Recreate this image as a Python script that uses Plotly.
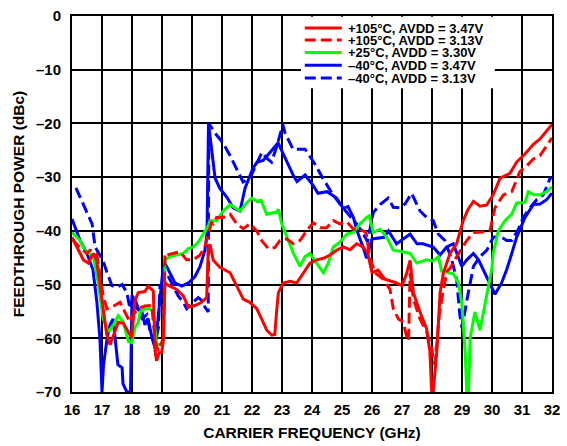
import plotly.graph_objects as go

# Carrier feedthrough vs. carrier frequency, five temperature / supply corners
f_r347 = [16.0, 16.21, 16.38, 16.54, 16.71, 16.82, 16.93, 17.04, 17.16, 17.27, 17.38, 17.54, 17.71, 17.88, 17.99,
          18.1, 18.21, 18.43, 18.54, 18.71, 18.77, 18.82, 18.9, 18.99, 19.04, 19.1, 19.27, 19.49, 19.71, 19.88,
          20.1, 20.32, 20.49, 20.54, 20.6, 20.71, 20.93, 21.27, 21.49, 21.71, 21.93, 22.16, 22.32, 22.49, 22.66,
          22.76, 22.82, 22.88, 23.04, 23.27, 23.49, 23.71, 23.93, 24.16, 24.38, 24.6, 24.82, 25.04, 25.27, 25.49,
          25.7, 25.85, 25.93, 26.0, 26.2, 26.43, 26.82, 27.0, 27.15, 27.27, 27.38, 27.6, 27.82, 27.93, 27.99,
          28.04, 28.16, 28.27, 28.38, 28.6, 28.82, 29.04, 29.2, 29.38, 29.6, 29.82, 30.04, 30.27, 30.6, 30.82,
          31.1, 31.38, 31.6, 31.82, 32.0]
p_r347 = [-41.2, -43.6, -45.4, -46.0, -44.2, -45.5, -50.3, -55.1, -59.4, -61.2, -59.4, -57.0, -57.2, -58.8, -59.9,
          -53.0, -51.5, -51.3, -50.3, -51.2, -62.4, -64.2, -62.8, -62.6, -60.6, -49.7, -50.3, -50.9, -52.1, -54.2,
          -53.9, -53.3, -52.4, -43.6, -42.5, -45.5, -46.8, -47.8, -50.3, -52.7, -53.3, -54.5, -56.4, -58.5, -59.4,
          -59.3, -55.0, -51.5, -49.7, -49.4, -49.7, -47.8, -46.0, -45.4, -45.1, -44.5, -43.6, -43.0, -43.5, -42.4,
          -43.0, -44.0, -46.0, -47.8, -47.3, -49.0, -49.7, -50.2, -48.0, -45.5, -51.5, -55.1, -58.2, -62.5, -70.0,
          -70.0, -62.5, -51.5, -47.8, -44.2, -42.4, -38.1, -36.0, -34.5, -35.4, -35.2, -33.3, -30.2, -29.3, -27.2,
          -25.7, -23.9, -22.9, -21.4, -20.2]

f_r313 = [16.0, 16.25, 16.49, 16.6, 16.82, 16.93, 17.04, 17.16, 17.33, 17.6, 17.77, 17.93, 18.05, 18.21, 18.43,
          18.66, 18.77, 18.88, 19.04, 19.1, 19.16, 19.38, 19.6, 19.82, 20.04, 20.27, 20.43, 20.54, 20.65, 20.71,
          20.82, 21.04, 21.27, 21.49, 21.71, 21.93, 22.16, 22.32, 22.54, 22.76, 22.93, 23.16, 23.38, 23.6, 23.82,
          24.04, 24.27, 24.49, 24.71, 24.93, 25.16, 25.38, 25.6, 25.8, 25.93, 26.1, 26.38, 26.6, 26.71, 26.88,
          27.04, 27.16, 27.22, 27.27, 27.38, 27.6, 27.82, 27.99, 28.08, 28.16, 28.24, 28.38, 28.5, 28.6, 28.8,
          29.16, 29.38, 29.71, 29.93, 30.1, 30.38, 30.66, 30.93, 31.16, 31.38, 31.6, 31.82, 32.0]
p_r313 = [-41.5, -43.0, -44.2, -43.6, -44.2, -47.8, -52.1, -54.5, -54.2, -53.3, -55.1, -57.0, -55.5, -54.5, -54.0,
          -53.9, -60.6, -62.4, -60.0, -44.2, -44.5, -44.2, -43.9, -45.4, -45.4, -44.5, -43.0, -40.6, -38.5, -38.7,
          -37.5, -37.5, -36.9, -38.7, -39.6, -38.7, -40.0, -41.8, -43.3, -43.1, -41.8, -41.5, -42.4, -41.8, -40.0,
          -38.5, -39.4, -39.4, -38.1, -38.7, -38.3, -39.7, -39.7, -40.3, -44.9, -47.8, -49.0, -50.9, -54.5, -56.4,
          -57.0, -59.7, -60.5, -47.8, -52.7, -56.4, -58.8, -61.8, -64.9, -61.2, -55.7, -50.9, -47.5, -47.0, -45.0,
          -41.8, -40.3, -40.2, -40.0, -35.7, -33.3, -32.7, -29.0, -27.9, -26.6, -26.0, -24.2, -22.7]

f_g330 = [16.0, 16.27, 16.43, 16.71, 16.82, 16.93, 17.04, 17.21, 17.38, 17.54, 17.71, 17.88, 17.99, 18.1, 18.21,
          18.27, 18.43, 18.6, 18.71, 18.82, 18.99, 19.06, 19.1, 19.27, 19.49, 19.71, 19.88, 20.04, 20.21, 20.38,
          20.54, 20.6, 20.82, 21.04, 21.27, 21.6, 21.82, 21.99, 22.16, 22.3, 22.49, 22.82, 22.88, 22.99, 23.16,
          23.38, 23.6, 23.77, 23.93, 24.16, 24.38, 24.54, 24.71, 24.93, 25.16, 25.38, 25.6, 25.82, 25.91, 26.04,
          26.27, 26.49, 26.71, 26.93, 27.27, 27.49, 27.82, 28.04, 28.21, 28.32, 28.6, 28.71, 28.88, 28.99, 29.1,
          29.16, 29.22, 29.27, 29.43, 29.6, 29.82, 29.99, 30.04, 30.21, 30.43, 30.66, 30.82, 31.1, 31.21, 31.4,
          31.6, 31.82, 32.0]
p_g330 = [-40.3, -41.8, -43.6, -44.8, -47.8, -52.1, -56.4, -58.8, -57.5, -55.8, -57.0, -60.6, -60.8, -58.0, -57.0,
          -55.1, -54.5, -54.5, -55.1, -61.2, -61.1, -60.3, -45.4, -44.8, -44.5, -44.2, -43.3, -43.0, -42.1, -40.6,
          -39.1, -38.1, -38.1, -36.3, -35.1, -36.3, -34.8, -33.9, -34.5, -34.3, -36.9, -36.5, -36.0, -38.7, -41.2,
          -44.2, -46.6, -44.8, -44.2, -46.0, -47.8, -46.0, -43.0, -42.1, -40.6, -40.3, -38.7, -37.5, -37.2, -40.3,
          -39.7, -41.2, -43.6, -43.8, -44.2, -46.0, -45.4, -45.6, -44.8, -47.5, -47.8, -48.0, -49.7, -53.3, -62.0,
          -70.0, -70.0, -60.0, -55.1, -58.5, -52.1, -47.2, -44.2, -40.0, -38.1, -36.9, -34.8, -34.7, -32.7, -33.3,
          -33.3, -32.7, -31.8]

f_b347 = [16.0, 16.27, 16.5, 16.7, 16.83, 16.93, 17.0, 17.05, 17.17, 17.27, 17.37, 17.43, 17.53, 17.67, 17.7,
          17.83, 17.95, 18.0, 18.17, 18.33, 18.43, 18.53, 18.67, 18.77, 18.87, 19.03, 19.1, 19.27, 19.43, 19.66,
          19.88, 20.1, 20.27, 20.43, 20.5, 20.55, 20.67, 20.77, 20.93, 21.17, 21.37, 21.6, 21.77, 22.03, 22.17,
          22.37, 22.6, 22.87, 23.17, 23.37, 23.5, 23.77, 24.03, 24.2, 24.5, 24.82, 25.04, 25.2, 25.38, 25.5,
          25.7, 25.82, 26.0, 26.4, 26.55, 26.82, 27.27, 27.5, 27.7, 28.04, 28.27, 28.49, 28.71, 28.99, 29.16,
          29.38, 29.55, 29.71, 29.93, 30.1, 30.32, 30.49, 30.66, 30.82, 31.1, 31.38, 31.6, 31.82, 32.0]
p_b347 = [-37.8, -41.8, -44.2, -47.3, -53.3, -60.0, -70.0, -65.0, -60.0, -57.5, -56.4, -60.0, -64.9, -65.5, -68.5,
          -70.0, -70.0, -52.0, -54.5, -55.1, -57.5, -56.3, -60.0, -61.8, -56.3, -47.3, -46.0, -47.8, -49.7, -50.3,
          -49.7, -48.5, -46.6, -43.6, -40.5, -20.0, -26.0, -30.2, -32.1, -33.8, -35.7, -36.3, -32.0, -28.4, -27.2,
          -26.9, -25.4, -23.6, -27.2, -29.6, -30.8, -29.6, -31.5, -33.0, -32.7, -33.9, -35.8, -35.5, -37.5, -40.0,
          -43.0, -45.1, -41.5, -41.2, -40.0, -42.4, -40.6, -42.4, -42.4, -43.0, -44.5, -43.0, -42.4, -46.6, -45.4,
          -44.2, -45.4, -47.2, -49.7, -51.8, -49.7, -47.2, -44.2, -41.2, -37.5, -35.1, -35.0, -34.2, -33.0]

f_b313 = [16.13, 16.4, 16.67, 16.77, 17.03, 17.17, 17.33, 17.5, 17.67, 17.83, 17.93, 18.05, 18.17, 18.33, 18.5,
          18.6, 18.77, 18.88, 18.93, 19.05, 19.21, 19.38, 19.54, 19.71, 19.82, 20.04, 20.21, 20.33, 20.43, 20.54,
          20.56, 20.77, 21.03, 21.27, 21.53, 21.7, 21.93, 22.17, 22.33, 22.5, 22.65, 22.83, 23.03, 23.1, 23.37,
          23.77, 24.1, 24.37, 24.7, 25.03, 25.5, 25.7, 25.85, 26.04, 26.27, 26.54, 26.71, 26.93, 27.1, 27.32,
          27.6, 27.82, 28.04, 28.21, 28.43, 28.66, 28.82, 28.93, 29.0, 29.17, 29.38, 29.6, 29.83, 30.04, 30.27,
          30.49, 30.66, 30.88, 31.04, 31.27, 31.49, 31.71, 31.93, 32.0]
p_b313 = [-32.0, -35.5, -38.7, -43.0, -45.5, -47.8, -50.2, -50.5, -50.0, -51.5, -54.5, -52.0, -53.8, -56.3, -55.6,
          -58.7, -61.0, -58.0, -50.3, -50.0, -48.5, -50.3, -52.1, -53.3, -54.5, -53.3, -52.4, -53.0, -54.2, -55.1,
          -20.0, -21.8, -23.6, -26.0, -29.0, -30.9, -30.2, -27.2, -25.4, -26.5, -27.2, -24.2, -20.2, -21.8, -24.8,
          -24.8, -27.6, -30.3, -33.3, -35.7, -38.8, -40.5, -42.0, -36.6, -35.1, -33.9, -35.6, -35.7, -35.0, -33.0,
          -36.3, -37.5, -38.1, -40.6, -41.8, -45.4, -49.0, -55.7, -58.1, -52.7, -46.6, -44.8, -43.6, -41.2, -41.0,
          -41.8, -41.8, -39.7, -37.5, -35.7, -34.2, -33.3, -30.3, -30.0]

labels = ["+105°C, AVDD = 3.47V", "+105°C, AVDD = 3.13V", "+25°C, AVDD = 3.30V",
          "–40°C, AVDD = 3.47V", "–40°C, AVDD = 3.13V"]
colors = ["#FF0000", "#FF0000", "#00FF00", "#0000FF", "#0000FF"]
dashes = ["solid", "11px,5px", "solid", "solid", "11px,5px"]
series = [(f_r347, p_r347), (f_r313, p_r313), (f_g330, p_g330), (f_b347, p_b347), (f_b313, p_b313)]

x_ticks = list(range(16, 33))
y_ticks = [0, -10, -20, -30, -40, -50, -60, -70]
y_ticktext = ["0" if v == 0 else "–" + str(-v) for v in y_ticks]

FONT = "Liberation Sans, Arial, sans-serif"

fig = go.Figure()
# draw the -40°C curves first so the warmer corners sit on top
for i in [4, 3, 2, 1, 0]:
    fx, fy = series[i]
    fig.add_trace(go.Scatter(x=fx, y=fy, mode="lines", name=labels[i], showlegend=False,
                             line=dict(color=colors[i], width=3, dash=dashes[i])))

# Compact legend block in the upper right
shapes = [dict(type="rect", xref="paper", yref="paper", x0=0.477, x1=0.881, y0=0.808, y1=0.998,
               fillcolor="white", line=dict(width=0), layer="above")]
annotations = []
row_y = [0.968, 0.936, 0.903, 0.869, 0.835]
for lbl, col, d, ry in zip(labels, colors, dashes, row_y):
    shapes.append(dict(type="line", xref="paper", yref="paper", x0=0.485, x1=0.562, y0=ry, y1=ry,
                       line=dict(color=col, width=3, dash=d), layer="above"))
    annotations.append(dict(xref="paper", yref="paper", x=0.571, y=ry, text=lbl, showarrow=False,
                            xanchor="left", yanchor="middle",
                            font=dict(family=FONT, size=13, color="black", weight="bold")))

fig.update_layout(
    width=567, height=446,
    margin=dict(l=72, r=15, t=7, b=54),
    paper_bgcolor="white", plot_bgcolor="white",
    font=dict(family=FONT, size=15, color="black", weight="bold"),
    shapes=shapes, annotations=annotations,
    showlegend=False,
)
fig.update_xaxes(range=[16, 32], tickvals=x_ticks, ticktext=[str(v) for v in x_ticks],
                 showgrid=True, gridcolor="black", gridwidth=1.5,
                 showline=True, linecolor="black", linewidth=2, mirror=True, zeroline=False,
                 ticks="outside", ticklen=3, tickcolor="rgba(0,0,0,0)",
                 tickfont=dict(family=FONT, size=15, color="black", weight="bold"),
                 title=dict(text="CARRIER FREQUENCY (GHz)", standoff=10,
                            font=dict(family=FONT, size=15.5, color="black", weight="bold")))
fig.update_yaxes(range=[-70, 0], tickvals=y_ticks, ticktext=y_ticktext,
                 showgrid=True, gridcolor="black", gridwidth=1.5,
                 showline=True, linecolor="black", linewidth=2, mirror=True, zeroline=False,
                 ticks="outside", ticklen=6, tickcolor="rgba(0,0,0,0)",
                 tickfont=dict(family=FONT, size=15, color="black", weight="bold"),
                 title=dict(text="FEEDTHROUGH POWER (dBc)", standoff=8,
                            font=dict(family=FONT, size=15.5, color="black", weight="bold")))

fig.write_html("out.html")
